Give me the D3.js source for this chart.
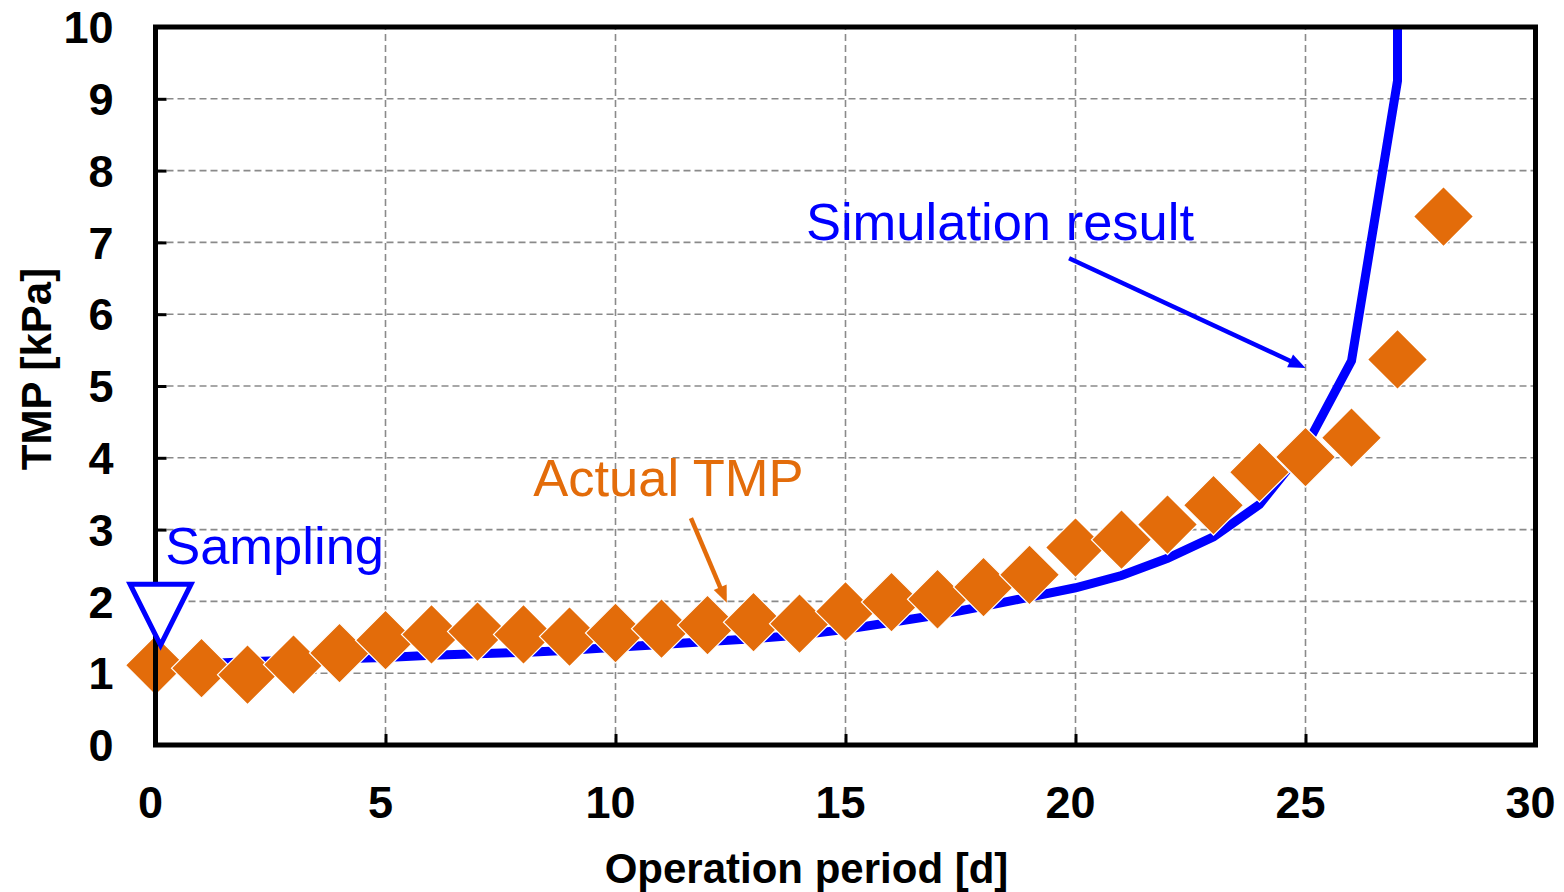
<!DOCTYPE html>
<html>
<head>
<meta charset="utf-8">
<script src="https://cdn.jsdelivr.net/npm/d3@7"></script>
<style>
  html, body { margin: 0; padding: 0; background: #fff; }
  svg { display: block; font-family: "Liberation Sans", Arial, sans-serif; }
</style>
</head>
<body>
<svg id="chart" width="1564" height="892"></svg>
<script>
// Measured TMP, one point per day of operation
const actualDays = [0,1,2,3,4,5,6,7,8,9,10,11,12,13,14,15,16,17,18,19,20,21,22,23,24,25,26,27,28];
const actualTmp  = [1.11,1.07,0.98,1.12,1.28,1.46,1.54,1.58,1.54,1.51,1.56,1.62,1.67,1.71,1.69,1.86,1.99,2.03,2.20,2.37,2.75,2.86,3.07,3.34,3.80,4.01,4.28,5.37,7.36];

// Simulated TMP curve (ends in a vertical rise at day 27)
const simDays = [0,1,2,3,4,5,6,7,8,9,10,11,12,13,14,15,16,17,18,19,20,21,22,23,24,25,26,27,27];
const simTmp  = [1.10,1.13,1.16,1.18,1.20,1.22,1.25,1.27,1.29,1.32,1.36,1.40,1.44,1.48,1.53,1.61,1.71,1.81,1.93,2.06,2.19,2.36,2.60,2.90,3.35,4.15,5.35,9.25,10.0];

// Sampling moment (marker tip)
const samplingDay = [0.11];
const samplingTmp = [1.39];

// Axis ticks
const xTicks = [0,5,10,15,20,25,30];
const yTicks = [0,1,2,3,4,5,6,7,8,9,10];

const xTitle = "Operation period [d]";
const yTitle = "TMP [kPa]";

const ORANGE = "#E36C0A";
const BLUE = "#0000FF";

const svg = d3.select("#chart");
const margin = { left: 155.5, right: 28.5, top: 27, bottom: 147 };
const W = 1564, H = 892;

const x = d3.scaleLinear().domain([0, 30]).range([margin.left, W - margin.right]);
const y = d3.scaleLinear().domain([0, 10]).range([H - margin.bottom, margin.top]);

const x0 = x(0), x1 = x(30), y0 = y(0), y1 = y(10);

// Grid lines
const grid = svg.append("g").attr("stroke", "#8a8a8a").attr("stroke-width", 1.6)
  .attr("stroke-dasharray", "7,4").attr("fill", "none");
grid.selectAll("line.h").data(yTicks.filter(v => v > 0 && v < 10)).join("line")
  .attr("class", "h").attr("x1", x0).attr("x2", x1).attr("y1", d => y(d)).attr("y2", d => y(d));
grid.selectAll("line.v").data(xTicks.filter(v => v > 0 && v < 30)).join("line")
  .attr("class", "v").attr("y1", y0).attr("y2", y1).attr("x1", d => x(d)).attr("x2", d => x(d));

// Axes with inward ticks
const xAxis = d3.axisBottom(x).tickValues(xTicks).tickSize(-11).tickFormat("");
const yAxis = d3.axisLeft(y).tickValues(yTicks).tickSize(-11).tickFormat("");
svg.append("g").attr("transform", `translate(0,${y0})`).call(xAxis)
  .call(g => g.select(".domain").remove())
  .selectAll(".tick line").attr("stroke", "#000").attr("stroke-width", 3);
svg.append("g").attr("transform", `translate(${x0},0)`).call(yAxis)
  .call(g => g.select(".domain").remove())
  .selectAll(".tick line").attr("stroke", "#000").attr("stroke-width", 3);

// Tick labels
svg.append("g").selectAll("text").data(xTicks).join("text")
  .attr("x", d => x(d) - 5).attr("y", y0 + 73)
  .attr("text-anchor", "middle").attr("font-size", 45).attr("font-weight", "bold")
  .text(d => d);
svg.append("g").selectAll("text").data(yTicks).join("text")
  .attr("x", x0 - 42).attr("y", d => y(d)).attr("dy", "0.36em")
  .attr("text-anchor", "end").attr("font-size", 45).attr("font-weight", "bold")
  .text(d => d);

// Axis titles
svg.append("text").attr("x", (x0 + x1) / 2 - 39).attr("y", 883)
  .attr("text-anchor", "middle").attr("font-size", 42).attr("font-weight", "bold")
  .text(xTitle);
svg.append("text").attr("transform", `translate(51,${(y0 + y1) / 2 - 17}) rotate(-90)`)
  .attr("text-anchor", "middle").attr("font-size", 42).attr("font-weight", "bold")
  .text(yTitle);

// Clip for data
svg.append("defs").append("clipPath").attr("id", "plotClip")
  .append("rect").attr("x", x0).attr("y", y1).attr("width", x1 - x0).attr("height", y0 - y1);

// Simulation line
const simData = simDays.map((d, i) => ({ d, v: simTmp[i] }));
svg.append("path").datum(simData)
  .attr("clip-path", "url(#plotClip)")
  .attr("fill", "none").attr("stroke", BLUE).attr("stroke-width", 9)
  .attr("stroke-linejoin", "miter")
  .attr("d", d3.line().x(p => x(p.d)).y(p => y(p.v)));

// Actual TMP diamonds (squares turned 45 degrees)
const actualData = actualDays.map((d, i) => ({ d, v: actualTmp[i] }));
svg.append("g").selectAll("path").data(actualData).join("path")
  .attr("d", d3.symbol().type(d3.symbolSquare).size(1800))
  .attr("transform", p => `translate(${x(p.d)},${y(p.v)}) rotate(45)`)
  .attr("fill", ORANGE).attr("stroke", "#fff").attr("stroke-width", 1.2);

// Plot frame
svg.append("rect").attr("x", x0).attr("y", y1).attr("width", x1 - x0).attr("height", y0 - y1)
  .attr("fill", "none").attr("stroke", "#000").attr("stroke-width", 5);

// Sampling marker (open inverted triangle whose tip points at the sample)
const samp = samplingDay.map((d, i) => ({ d, v: samplingTmp[i] }));
svg.append("g").selectAll("path").data(samp).join("path")
  .attr("d", p => {
    const tx = x(p.d), ty = y(p.v);
    return `M${tx - 30.5},${ty - 61}L${tx + 30.5},${ty - 61}L${tx},${ty}Z`;
  })
  .attr("fill", "#fff").attr("stroke", BLUE).attr("stroke-width", 5)
  .attr("stroke-linejoin", "miter");

// Annotations (positions in data units)
const notes = [
  { text: "Simulation result", color: BLUE, tx: 14.14, ty: 7.03, from: [19.86, 6.78], to: [25.0, 5.25] },
  { text: "Actual TMP", color: ORANGE, tx: 8.21, ty: 3.47, from: [11.64, 3.16], to: [12.42, 1.98] },
  { text: "Sampling", color: BLUE, tx: 0.21, ty: 2.52 }
];

function arrow(g, from, to, color) {
  const ax = x(from[0]), ay = y(from[1]), bx = x(to[0]), by = y(to[1]);
  const ang = Math.atan2(by - ay, bx - ax);
  const len = 17, hw = 7;
  const cx = bx - len * Math.cos(ang), cy = by - len * Math.sin(ang);
  g.append("line").attr("x1", ax).attr("y1", ay).attr("x2", cx + 2 * Math.cos(ang)).attr("y2", cy + 2 * Math.sin(ang))
    .attr("stroke", color).attr("stroke-width", 4.5);
  const px = -Math.sin(ang), py = Math.cos(ang);
  g.append("path")
    .attr("d", `M${bx},${by}L${cx + hw * px},${cy + hw * py}L${cx - hw * px},${cy - hw * py}Z`)
    .attr("fill", color);
}

const ann = svg.append("g");
notes.forEach(n => {
  ann.append("text").attr("x", x(n.tx)).attr("y", y(n.ty))
    .attr("font-size", 52.5).attr("fill", n.color).text(n.text);
  if (n.from) arrow(ann, n.from, n.to, n.color);
});
</script>
</body>
</html>
